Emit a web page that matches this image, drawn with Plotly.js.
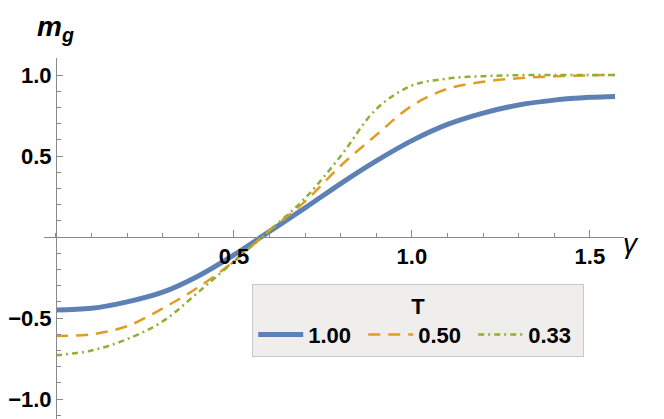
<!DOCTYPE html>
<html>
<head>
<meta charset="utf-8">
<script src="https://cdn.plot.ly/plotly-3.0.1.min.js"></script>
<style>html,body{margin:0;padding:0;background:#fff;}#chart{width:664px;height:419px;}</style>
</head>
<body>
<div id="chart"></div>
<script>
// gamma values
const gammaVals = [0, 0.1, 0.2, 0.3, 0.4, 0.5, 0.6, 0.7, 0.8, 0.9, 1.0, 1.1, 1.2, 1.3, 1.4, 1.5, 1.5708];
// m_g for T = 1.00
const mgT100 = [-0.45, -0.44, -0.40, -0.34, -0.24, -0.11, 0.035, 0.18, 0.33, 0.47, 0.595, 0.695, 0.765, 0.815, 0.845, 0.862, 0.868];
// m_g for T = 0.50
const mgT050 = [-0.61, -0.60, -0.55, -0.44, -0.31, -0.15, 0.04, 0.22, 0.44, 0.63, 0.81, 0.915, 0.958, 0.98, 0.992, 0.998, 1.0];
// m_g for T = 0.33
const mgT033 = [-0.73, -0.70, -0.63, -0.52, -0.34, -0.15, 0.04, 0.24, 0.50, 0.79, 0.935, 0.978, 0.993, 0.999, 1.0, 1.0, 1.0];
const seriesNames = ["1.00", "0.50", "0.33"];
const xTickVals = [0.5, 1.0, 1.5];
const xTickText = ["0.5", "1.0", "1.5"];
const yTickVals = [-1.0, -0.5, 0.5, 1.0];
const yTickText = ["\u22121.0", "\u22120.5", "0.5", "1.0"];

const font = "Liberation Sans, Arial, sans-serif";
const xr = [-0.0337, 1.596];
const yr = [-1.123, 1.105];

const traces = [
  {x: gammaVals, y: mgT100, name: seriesNames[0], mode: "lines",
   line: {color: "#5E81B5", width: 5, shape: "spline"}},
  {x: gammaVals, y: mgT050, name: seriesNames[1], mode: "lines",
   line: {color: "#E19C24", width: 2.5, dash: "12px,8px", shape: "spline"}},
  {x: gammaVals, y: mgT033, name: seriesNames[2], mode: "lines",
   line: {color: "#8FB032", width: 2.5, dash: "6px,4px,2px,4px", shape: "spline"}}
];

const tf = {family: font, size: 22, color: "#000", weight: "bold"};

const layout = {
  width: 664, height: 419,
  margin: {l: 44, r: 40, t: 58, b: 0, pad: 0},
  paper_bgcolor: "#ffffff", plot_bgcolor: "#ffffff",
  showlegend: true,
  font: {family: font, size: 22, color: "#000"},
  xaxis: {
    range: xr, anchor: "free", position: (0 - yr[0]) / (yr[1] - yr[0]),
    showgrid: false, zeroline: false, showline: true, linecolor: "#8a8a8a", linewidth: 1,
    tickmode: "array", tickvals: xTickVals, ticktext: xTickText,
    ticks: "inside", ticklen: 7, tickcolor: "#8a8a8a", tickwidth: 1,
    tickfont: tf,
    minor: {tickmode: "linear", dtick: 0.1, tick0: 0, ticks: "inside", ticklen: 4, tickcolor: "#8a8a8a", tickwidth: 1, showgrid: false}
  },
  yaxis: {
    range: yr, anchor: "free", position: (0 - xr[0]) / (xr[1] - xr[0]),
    showgrid: false, zeroline: false, showline: true, linecolor: "#8a8a8a", linewidth: 1,
    tickmode: "array", tickvals: yTickVals, ticktext: yTickText,
    ticks: "inside", ticklen: 6, tickcolor: "#8a8a8a", tickwidth: 1,
    tickfont: tf,
    minor: {tickmode: "linear", dtick: 0.1, tick0: 0, ticks: "inside", ticklen: 4, tickcolor: "#8a8a8a", tickwidth: 1, showgrid: false}
  },
  legend: {
    orientation: "h", x: 0.359, xanchor: "left", y: 0.374, yanchor: "top",
    bgcolor: "#efeeec", bordercolor: "#c8c8c8", borderwidth: 1,
    font: tf,
    title: {text: "T", side: "top center", font: tf},
    itemwidth: 45, entrywidth: 50, entrywidthmode: "pixels"
  },
  annotations: [
    {text: "<b><i>m</i></b><sub><b><i>g</i></b></sub>", xref: "paper", yref: "paper",
     x: 0.019, y: 1.083, xanchor: "center", yanchor: "middle", showarrow: false,
     font: {family: font, size: 28, color: "#000"}},
    {text: "<i>\u03b3</i>", xref: "paper", yref: "paper",
     x: 1.012, y: 0.4875, xanchor: "center", yanchor: "middle", showarrow: false,
     font: {family: font, size: 28, color: "#000"}}
  ]
};

Plotly.newPlot("chart", traces, layout, {displayModeBar: false, staticPlot: true});
</script>
</body>
</html>
